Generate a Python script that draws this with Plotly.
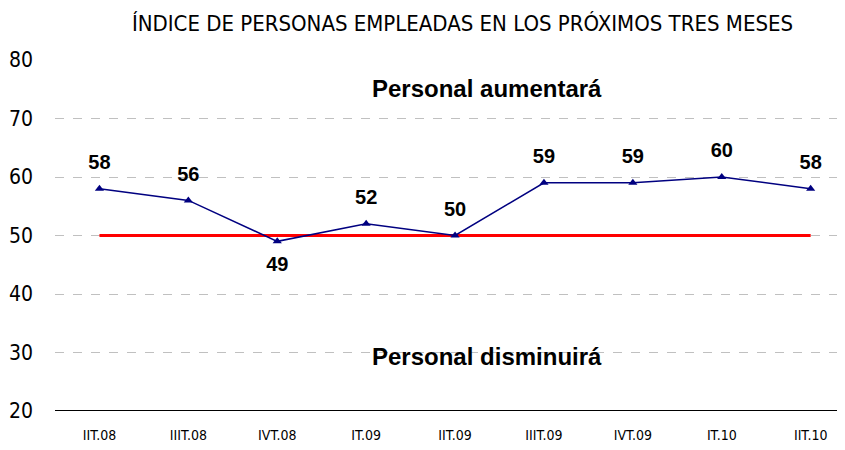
import plotly.graph_objects as go

# quarters and index values
quarters = ["IIT.08", "IIIT.08", "IVT.08", "IT.09", "IIT.09", "IIIT.09", "IVT.09", "IT.10", "IIT.10"]
indice = [58, 56, 49, 52, 50, 59, 59, 60, 58]
neutral = [50] * len(quarters)
label_pos = ["top center", "top center", "bottom center", "top center", "top center",
             "top center", "top center", "top center", "top center"]

narrow = "DejaVu Sans Condensed, Liberation Sans Narrow, sans-serif"
bold = "Liberation Sans, Arial, sans-serif"

fig = go.Figure()
fig.add_trace(go.Scatter(x=quarters, y=neutral, mode="lines",
                         line=dict(color="#ff0000", width=3), hoverinfo="skip"))
fig.add_trace(go.Scatter(
    x=quarters, y=indice, mode="lines+markers",
    line=dict(color="#000080", width=1.5),
    marker=dict(symbol="triangle-up", size=8, color="#000080"),
))
# value labels, pushed off the points with an invisible wider marker
fig.add_trace(go.Scatter(
    x=quarters, y=indice, mode="markers+text",
    marker=dict(size=22, opacity=0),
    text=[str(v) for v in indice], textposition=label_pos,
    textfont=dict(family=bold, size=20, color="black", weight="bold"),
    hoverinfo="skip",
))

fig.add_annotation(x=0.55, xref="paper", y=75.2, text="<b>Personal aumentará</b>",
                   showarrow=False, font=dict(family=bold, size=24, color="black"))
fig.add_annotation(x=0.55, xref="paper", y=29.3, text="<b>Personal disminuirá</b>",
                   showarrow=False, font=dict(family=bold, size=24, color="black"))

fig.update_layout(
    width=837, height=442,
    margin=dict(l=47, r=5, t=52, b=39),
    plot_bgcolor="white", paper_bgcolor="white",
    showlegend=False,
    title=dict(text="ÍNDICE DE PERSONAS EMPLEADAS EN LOS PRÓXIMOS TRES MESES",
               x=0.543, xanchor="center", y=0.966, yanchor="middle",
               font=dict(family=narrow, size=22, color="black")),
    xaxis=dict(range=[-0.5, 8.33], showgrid=False, ticks="", ticklabelstandoff=14,
               automargin=False,
               tickfont=dict(family=narrow, size=14, color="black"),
               showline=False, zeroline=False),
    yaxis=dict(range=[20, 80], dtick=10, showgrid=True, gridcolor="#c0c0c0",
               griddash="dash", gridwidth=1, zeroline=False, ticks="",
               ticklabelstandoff=21, automargin=False,
               tickfont=dict(family=narrow, size=21, color="black")),
)
fig.add_shape(type="line", xref="paper", x0=0, x1=1, yref="y", y0=20, y1=20,
              line=dict(color="black", width=2))

fig.write_html("out.html")
